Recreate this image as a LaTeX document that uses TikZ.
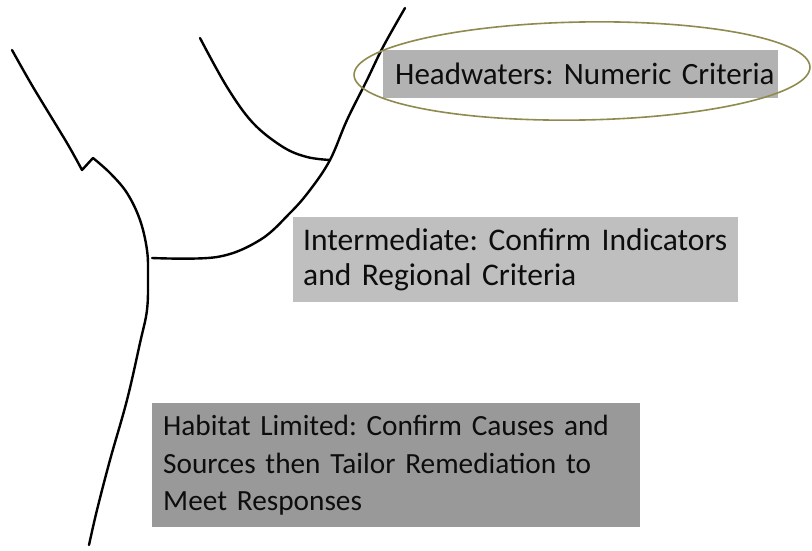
\documentclass[tikz,border=0pt]{standalone}
\usepackage{fontspec}
\setmainfont{Carlito}
\frenchspacing
\begin{document}
\begin{tikzpicture}[x=1pt,y=-1pt,
  stream/.style={line width=2.4pt,black,line cap=round,line join=round},
  zone/.style={rectangle,anchor=north west,inner ysep=0pt,align=left,
    text=black!95},
  ring/.style={draw=olive!45!gray,line width=1.6pt}]
  \useasboundingbox (0,0) rectangle (812,550);
  \fill[white] (0,0) rectangle (812,550);

  % junctions of the stream network
  \coordinate (upper) at (330,160);
  \coordinate (lower) at (152,258);

  % left stem: upper reach with a small kink, then down to the outlet
  \draw[stream] plot[smooth,tension=0.5] coordinates
    {(12,50) (33,87) (67,143) (82,170)}
    -- (93,158)
    plot[smooth,tension=0.6] coordinates
    {(93,158) (110,173) (127,193) (140,220) (147,250) (148,277) (147,310)
     (140,343) (127,400) (110,460) (97,510) (89,545)};

  % right tributary from the top down to the left stem
  \draw[stream] plot[smooth,tension=0.6] coordinates
    {(405,8) (383,47) (367,80) (347,120) (upper) (310,190) (290,213)
     (260,240) (217,257) (lower)};

  % small headwater branch joining the right tributary
  \draw[stream] plot[smooth,tension=0.6] coordinates
    {(200,38) (227,87) (253,123) (283,147) (307,157) (upper)};

  % zone labels
  \node[zone,fill=black!30,inner xsep=12pt,minimum width=395pt,minimum height=48pt,
        text width=371pt,font=\fontsize{31}{36}\selectfont] (head) at (383,50)
        {\mbox{Headwaters: Numeric Criteria}};
  \node[zone,fill=black!25,inner xsep=10pt,minimum width=445pt,minimum height=85pt,
        text width=425pt,font=\fontsize{31.5}{35}\selectfont] (inter) at (293,217)
        {Intermediate: Confirm Indicators\\and Regional Criteria};
  \node[zone,fill=black!40,inner xsep=11pt,minimum width=488pt,minimum height=124pt,
        text width=466pt,font=\fontsize{29.3}{37.5}\selectfont] (habitat) at (152,403)
        {Habitat Limited: Confirm Causes and\\Sources then Tailor Remediation to\\Meet Responses};

  % ring round the headwaters label
  \draw[ring,rotate around={1:(582,71)}] (582,71) ellipse [x radius=228pt,y radius=49pt];
\end{tikzpicture}
\end{document}
